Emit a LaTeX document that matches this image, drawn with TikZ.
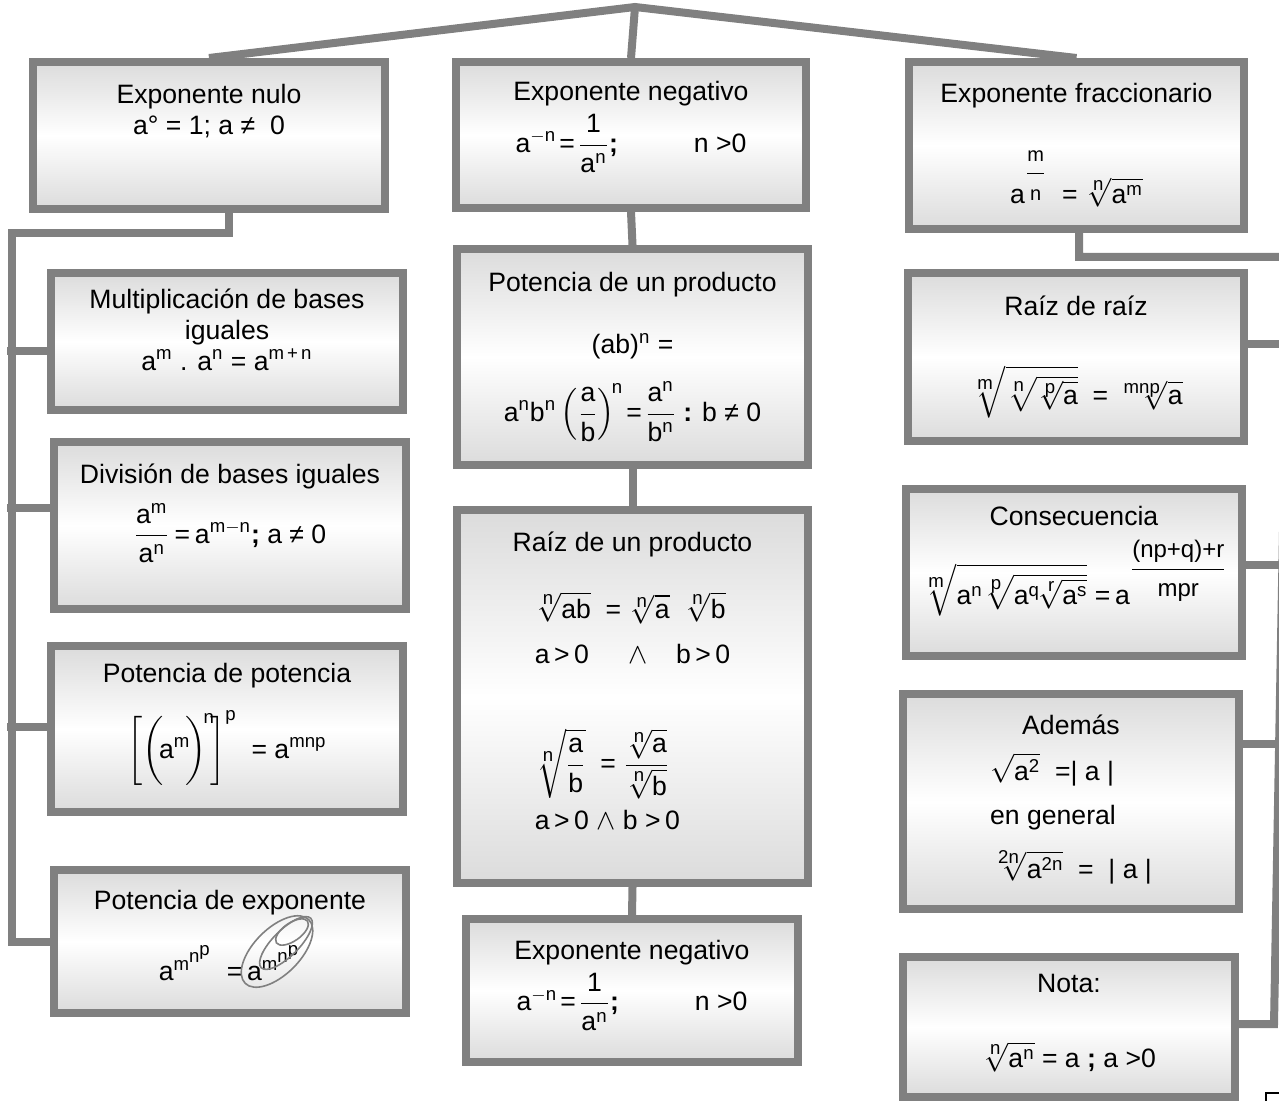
\documentclass[tikz,border=0pt]{standalone}
\usepackage{amsmath}
\usepackage{exscale}
\usepackage[no-math]{fontspec}
\setmainfont{Liberation Sans}[NFSSFamily=lsans]
% letras y cifras de las fórmulas en la misma sans
\DeclareSymbolFont{letters}{TU}{lsans}{m}{n}
\DeclareSymbolFont{operators}{TU}{lsans}{m}{n}
\usetikzlibrary{calc}
\newcommand{\raiz}[2]{\sqrt[\scriptstyle #1]{#2}}
\newcommand{\bajar}[1]{\rule[-#1]{0pt}{#1}}
\newcommand{\cuerpo}[2]{\text{\fontsize{#1}{#1}\selectfont #2}}
\tikzset{
  caja/.style 2 args={
    rectangle, draw=gray, line width=4pt,
    top color=gray!28, bottom color=gray!28, middle color=white,
    minimum width=#1, minimum height=#2, inner sep=2pt,
    align=center, font=\fontsize{13.3}{15.5}\selectfont
  },
  con/.style={draw=gray, line width=4pt},
  ovalo/.style={draw=gray, line width=0.8pt}
}

\begin{document}
\begin{tikzpicture}[x=0.5pt, y=-0.5pt]
\useasboundingbox (0,0) rectangle (1279,1101);

% Fila superior
\node[caja={176pt}{73.5pt}] (nulo) at (209,135.5)
  {Exponente nulo\\
   a° = 1; a ≠\ \ 0\bajar{26pt}};

\node[caja={175pt}{73pt}] (negtop) at (631,135)
  {Exponente negativo\\[3pt]
   $a^{-n}\!=\!\dfrac{1}{a^n}$\textbf{;}\hspace{38pt}n >0\bajar{18pt}};

\node[caja={167.5pt}{83.5pt}] (fracc) at (1076.5,145.5)
  {Exponente fraccionario\\[20pt]
   $a^{\genfrac{}{}{}{0}{\cuerpo{10pt}{m}}{\cuerpo{10pt}{n}}}$\ \ = $\raiz{n}{a^m}$};

% Columna izquierda
\node[caja={176pt}{68.5pt}] (multi) at (227,341.5)
  {Multiplicación de bases\\
   iguales\\
   $a^m$ . $a^n$ = $a^{m\,+\,n}$\bajar{12pt}};

\node[caja={176pt}{83.5pt}] (divi) at (230,525.5)
  {División de bases iguales\\[6pt]
   $\dfrac{a^m}{a^n}\,{=}\,a^{m-n}$\textbf{;} a ≠ 0\bajar{22pt}};

\node[caja={176pt}{83pt}] (potpot) at (227,729)
  {Potencia de potencia\\[10pt]
   $\Biggl[\biggl(\!a^m\!\biggr)^{\!n}\!\Biggr]^p$\ \ = $a^{mnp}$\bajar{18pt}};

\node[caja={176pt}{71.5pt}] (potexp) at (230,941.5)
  {Potencia de exponente\\[14pt]
   $a^{m^{\scriptstyle n^{\scriptstyle p}}}$\hspace{7pt}%
   ${=}\,a^{m^{\scriptstyle n^{\scriptstyle p}}}$\bajar{6pt}};

% Columna central
\node[caja={175.5pt}{108pt}] (potprod) at (632.5,357)
  {Potencia de un producto\\[15.5pt]
   (ab)$^n$ =\\[10pt]
   $a^nb^n\left(\dfrac{a}{b}\right)^{\!n}\!=\!\dfrac{a^n}{b^n}$ \textbf{:} b ≠ 0};

\node[caja={175.5pt}{186.5pt}] (raizprod) at (632.5,696.5)
  {Raíz de un producto\\[16.5pt]
   \begin{tabular}{@{}l@{}}
   $\raiz{n}{ab}$\ \ = $\raiz{n}{a}$\ \ $\raiz{n}{b}$\\[7pt]
   a\,>\,0\hspace{20pt}$\wedge$\hspace{14pt}b\,>\,0\\[28pt]
   $\raiz{n}{\dfrac{a}{b}}$\ \ = $\dfrac{\raiz{n}{a}}{\raiz{n}{b}}$\\[13pt]
   a\,>\,0 $\wedge$ b\ >\,0\bajar{16pt}
   \end{tabular}};

\node[caja={166pt}{71.5pt}] (negbot) at (632,990.5)
  {Exponente negativo\\[3pt]
   $a^{-n}\!=\!\dfrac{1}{a^n}$\textbf{;}\hspace{38pt}n >0\bajar{15pt}};

% Columna derecha
\node[caja={168pt}{84pt}] (raizraiz) at (1076,357)
  {Raíz de raíz\\[24pt]
   $\raiz{m}{\raiz{n}{\raiz{p}{a}}}$\ \ = $\raiz{mnp}{a}$\bajar{4pt}};

\node[caja={168pt}{83.5pt}] (consec) at (1074,572.5)
  {Consecuencia\\[6pt]
   $\raiz{m}{a^n\raiz{p}{a^q\raiz{r}{a^s}}}$\
   ${=}\,a^{\genfrac{}{}{}{0}{\cuerpo{12pt}{(np+q)+r}}{\cuerpo{12pt}{mpr}}}$\bajar{17pt}};

\node[caja={168pt}{107.5pt}] (ademas) at (1071,801.5)
  {Además\\[8pt]
   \begin{tabular}{@{}l@{}}
   $\sqrt{a^2}$\ \ =| a |\\[6.5pt]
   en\ general\\[8.5pt]
   $\raiz{2n}{a^{2n}}$\ \ =\ \ | a |
   \end{tabular}};

\node[caja={166pt}{70pt}] (nota) at (1069,1027)
  {Nota:\\[22pt]
   $\raiz{n}{a^n}$ = a \textbf{;} a >0\bajar{6pt}};

% óvalos de la potencia de exponente
\coordinate (ov1) at ($(potexp)+(47,10)$);
\coordinate (ov2) at ($(potexp)+(56,1.5)$);
\coordinate (ov3) at ($(potexp)+(62,-9.5)$);
\draw[ovalo, rotate around={45:(ov1)}] (ov1) ellipse [x radius=45, y radius=23];
\draw[ovalo, rotate around={45:(ov2)}] (ov2) ellipse [x radius=35, y radius=13];
\draw[ovalo, rotate around={35:(ov3)}] (ov3) ellipse [x radius=19, y radius=9];

% ── Conectores ──────────────────────────────────────────────
\coordinate (cima) at (635,7);
\coordinate (izq) at (12,233);
\coordinate (espA) at (1288,257);
\coordinate (espB) at (1274,1024);

\draw[con] (nulo.north) -- (cima) -- (fracc.north);
\draw[con] (cima) -- (negtop.north);

\draw[con] ([xshift=10pt]nulo.south) |- (izq) |- (potexp.west);
\draw[con] ([yshift=-4.75pt]multi.west) -- ++(-40,0);
\draw[con] ([yshift=8.75pt]divi.west) -- ++(-43,0);
\draw[con] ([yshift=1pt]potpot.west) -- ++(-40,0);

\draw[con] (negtop.south) -- (potprod.north);
\draw[con] (potprod.south) -- (raizprod.north);
\draw[con] (raizprod.south) -- (negbot.north);

\draw[con] ([xshift=1.25pt]fracc.south) |- (espA) -- (espB) -- (espB -| nota.east);
\draw[con] ([yshift=6.5pt]raizraiz.east) -- ++(45,0);
\draw[con] ([yshift=3.75pt]consec.east) -- ++(45,0);
\draw[con] ([yshift=28.75pt]ademas.east) -- ++(45,0);

\draw[black, line width=0.6pt] (1266,1101) -- (1266,1093) -- (1285,1093);

\end{tikzpicture}
\end{document}
